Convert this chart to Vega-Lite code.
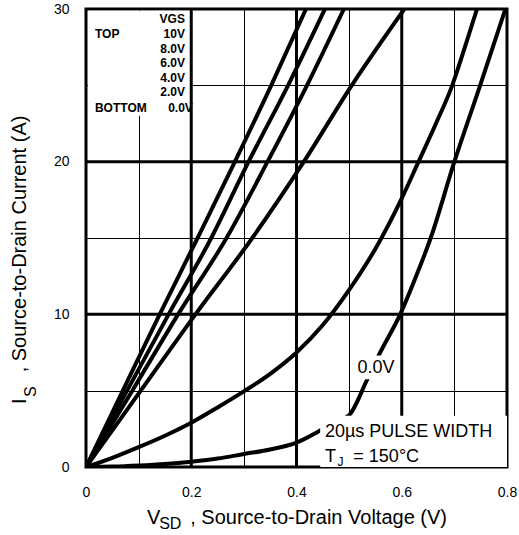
{
  "$schema": "https://vega.github.io/schema/vega-lite/v6.json",
  "width": 421,
  "height": 458,
  "autosize": {"type": "none"},
  "padding": {"left": 86, "top": 9, "right": 12, "bottom": 68},
  "background": "white",
  "config": {"view": {"stroke": "black", "strokeWidth": 3}},
  "datasets": {
    "curves": [
      {"vgs": "10V", "V": 0, "I": 0}, {"vgs": "10V", "V": 0.07, "I": 5}, {"vgs": "10V", "V": 0.14, "I": 10}, {"vgs": "10V", "V": 0.212, "I": 15}, {"vgs": "10V", "V": 0.283, "I": 20}, {"vgs": "10V", "V": 0.352, "I": 25}, {"vgs": "10V", "V": 0.418, "I": 30},
      {"vgs": "8.0V", "V": 0, "I": 0}, {"vgs": "8.0V", "V": 0.078, "I": 5}, {"vgs": "8.0V", "V": 0.157, "I": 10}, {"vgs": "8.0V", "V": 0.238, "I": 15}, {"vgs": "8.0V", "V": 0.309, "I": 20}, {"vgs": "8.0V", "V": 0.384, "I": 25}, {"vgs": "8.0V", "V": 0.454, "I": 30},
      {"vgs": "6.0V", "V": 0, "I": 0}, {"vgs": "6.0V", "V": 0.088, "I": 5}, {"vgs": "6.0V", "V": 0.175, "I": 10}, {"vgs": "6.0V", "V": 0.267, "I": 15}, {"vgs": "6.0V", "V": 0.345, "I": 20}, {"vgs": "6.0V", "V": 0.42, "I": 25}, {"vgs": "6.0V", "V": 0.49, "I": 30},
      {"vgs": "4.0V", "V": 0, "I": 0}, {"vgs": "4.0V", "V": 0.104, "I": 5}, {"vgs": "4.0V", "V": 0.208, "I": 10}, {"vgs": "4.0V", "V": 0.316, "I": 15}, {"vgs": "4.0V", "V": 0.414, "I": 20}, {"vgs": "4.0V", "V": 0.505, "I": 25}, {"vgs": "4.0V", "V": 0.605, "I": 30},
      {"vgs": "2.0V", "V": 0, "I": 0}, {"vgs": "2.0V", "V": 0.05, "I": 0.6}, {"vgs": "2.0V", "V": 0.1, "I": 1.3}, {"vgs": "2.0V", "V": 0.15, "I": 2.05}, {"vgs": "2.0V", "V": 0.2, "I": 2.9}, {"vgs": "2.0V", "V": 0.25, "I": 3.9}, {"vgs": "2.0V", "V": 0.3, "I": 4.95}, {"vgs": "2.0V", "V": 0.35, "I": 6.1}, {"vgs": "2.0V", "V": 0.4, "I": 7.5}, {"vgs": "2.0V", "V": 0.45, "I": 9.3}, {"vgs": "2.0V", "V": 0.5, "I": 11.6}, {"vgs": "2.0V", "V": 0.55, "I": 14.3}, {"vgs": "2.0V", "V": 0.6, "I": 17.6}, {"vgs": "2.0V", "V": 0.632, "I": 20}, {"vgs": "2.0V", "V": 0.665, "I": 22.5}, {"vgs": "2.0V", "V": 0.696, "I": 25}, {"vgs": "2.0V", "V": 0.72, "I": 27.5}, {"vgs": "2.0V", "V": 0.743, "I": 30},
      {"vgs": "0.0V", "V": 0, "I": 0}, {"vgs": "0.0V", "V": 0.05, "I": 0.03}, {"vgs": "0.0V", "V": 0.1, "I": 0.1}, {"vgs": "0.0V", "V": 0.15, "I": 0.2}, {"vgs": "0.0V", "V": 0.2, "I": 0.35}, {"vgs": "0.0V", "V": 0.25, "I": 0.55}, {"vgs": "0.0V", "V": 0.3, "I": 0.85}, {"vgs": "0.0V", "V": 0.35, "I": 1.15}, {"vgs": "0.0V", "V": 0.4, "I": 1.6}, {"vgs": "0.0V", "V": 0.44, "I": 2.3}, {"vgs": "0.0V", "V": 0.47, "I": 2.9}, {"vgs": "0.0V", "V": 0.5, "I": 3.4}, {"vgs": "0.0V", "V": 0.534, "I": 5.7}, {"vgs": "0.0V", "V": 0.559, "I": 7.5}, {"vgs": "0.0V", "V": 0.597, "I": 10}, {"vgs": "0.0V", "V": 0.625, "I": 12.3}, {"vgs": "0.0V", "V": 0.655, "I": 15}, {"vgs": "0.0V", "V": 0.7, "I": 20}, {"vgs": "0.0V", "V": 0.749, "I": 25}, {"vgs": "0.0V", "V": 0.797, "I": 30}
    ]
  },
  "layer": [
    {
      "data": {"values": [{"V": 0.004, "V2": 0.2, "I": 23, "I2": 29.88}]},
      "mark": {"type": "rect", "fill": "white", "stroke": null},
      "encoding": {
        "x": {"field": "V", "type": "quantitative", "scale": {"domain": [0, 0.8], "nice": false, "zero": false},
          "axis": {"values": [0, 0.1, 0.2, 0.3, 0.4, 0.5, 0.6, 0.7, 0.8], "grid": true, "gridColor": "black", "gridWidth": 1, "gridOpacity": 1, "domain": false, "ticks": false, "tickSize": 0, "labelPadding": 18, "labelFont": "Liberation Sans", "labelFontSize": 14, "labelColor": "black", "labelFlush": false, "labelOverlap": false, "title": null,
            "labelExpr": "round(datum.value*10) % 2 == 0 ? (datum.value == 0 ? '0' : format(datum.value, '.1f')) : ''"}},
        "x2": {"field": "V2"},
        "y": {"field": "I", "type": "quantitative", "scale": {"domain": [0, 30], "nice": false, "zero": false},
          "axis": {"values": [0, 5, 10, 15, 20, 25, 30], "grid": true, "gridColor": "black", "gridWidth": 1, "gridOpacity": 1, "domain": false, "ticks": false, "tickSize": 0, "labelPadding": 17, "labelFont": "Liberation Sans", "labelFontSize": 14, "labelColor": "black", "labelFlush": false, "labelOverlap": false, "title": null,
            "labelExpr": "datum.value % 10 == 0 ? datum.label : ''"}},
        "y2": {"field": "I2"}
      }
    },
    {
      "data": {"values": [{"V": 0.2}, {"V": 0.4}, {"V": 0.6}]},
      "mark": {"type": "rule", "color": "black", "strokeWidth": 3},
      "encoding": {"x": {"field": "V", "type": "quantitative", "scale": {"domain": [0, 0.8], "nice": false, "zero": false}}}
    },
    {
      "data": {"values": [{"I": 10}, {"I": 20}]},
      "mark": {"type": "rule", "color": "black", "strokeWidth": 3},
      "encoding": {"y": {"field": "I", "type": "quantitative", "scale": {"domain": [0, 30], "nice": false, "zero": false}}}
    },
    {
      "data": {"name": "curves"},
      "mark": {"type": "line", "color": "black", "strokeWidth": 4, "interpolate": "monotone", "clip": true},
      "encoding": {
        "x": {"field": "V", "type": "quantitative", "scale": {"domain": [0, 0.8], "nice": false, "zero": false}},
        "y": {"field": "I", "type": "quantitative", "scale": {"domain": [0, 30], "nice": false, "zero": false}},
        "detail": {"field": "vgs", "type": "nominal"}
      }
    },
    {
      "data": {"values": [{"V": 0.445, "V2": 0.8, "I": 0, "I2": 3.35}, {"V": 0.515, "V2": 0.585, "I": 5.75, "I2": 7.3}]},
      "mark": {"type": "rect", "fill": "white", "stroke": null},
      "encoding": {
        "x": {"field": "V", "type": "quantitative", "scale": {"domain": [0, 0.8], "nice": false, "zero": false}},
        "x2": {"field": "V2"},
        "y": {"field": "I", "type": "quantitative", "scale": {"domain": [0, 30], "nice": false, "zero": false}},
        "y2": {"field": "I2"}
      }
    },
    {
      "data": {"values": [{"t": "TOP", "V": 0.017, "I": 28.37}, {"t": "BOTTOM", "V": 0.017, "I": 23.52}]},
      "mark": {"type": "text", "font": "Liberation Sans", "fontWeight": "bold", "fontSize": 12, "align": "left", "baseline": "middle", "color": "black"},
      "encoding": {
        "x": {"field": "V", "type": "quantitative", "scale": {"domain": [0, 0.8], "nice": false, "zero": false}},
        "y": {"field": "I", "type": "quantitative", "scale": {"domain": [0, 30], "nice": false, "zero": false}},
        "text": {"field": "t"}
      }
    },
    {
      "data": {"values": [{"t": "VGS", "V": 0.188, "I": 29.36}, {"t": "10V", "V": 0.188, "I": 28.37}, {"t": "8.0V", "V": 0.188, "I": 27.41}, {"t": "6.0V", "V": 0.188, "I": 26.47}, {"t": "4.0V", "V": 0.188, "I": 25.49}, {"t": "2.0V", "V": 0.188, "I": 24.54}, {"t": "0.0V", "V": 0.203, "I": 23.52}]},
      "mark": {"type": "text", "font": "Liberation Sans", "fontWeight": "bold", "fontSize": 12, "align": "right", "baseline": "middle", "color": "black"},
      "encoding": {
        "x": {"field": "V", "type": "quantitative", "scale": {"domain": [0, 0.8], "nice": false, "zero": false}},
        "y": {"field": "I", "type": "quantitative", "scale": {"domain": [0, 30], "nice": false, "zero": false}},
        "text": {"field": "t"}
      }
    },
    {
      "data": {"values": [{"t": "0.0V", "V": 0.551, "I": 6.46}]},
      "mark": {"type": "text", "font": "Liberation Sans", "fontSize": 18, "align": "center", "baseline": "middle", "color": "black"},
      "encoding": {
        "x": {"field": "V", "type": "quantitative", "scale": {"domain": [0, 0.8], "nice": false, "zero": false}},
        "y": {"field": "I", "type": "quantitative", "scale": {"domain": [0, 30], "nice": false, "zero": false}},
        "text": {"field": "t"}
      }
    },
    {
      "data": {"values": [{"t": "20µs PULSE WIDTH", "V": 0.454, "I": 2.3}, {"t": "T", "V": 0.454, "I": 0.65}, {"t": "=  150°C", "V": 0.508, "I": 0.65}]},
      "mark": {"type": "text", "font": "Liberation Sans", "fontSize": 18, "align": "left", "baseline": "middle", "color": "black"},
      "encoding": {
        "x": {"field": "V", "type": "quantitative", "scale": {"domain": [0, 0.8], "nice": false, "zero": false}},
        "y": {"field": "I", "type": "quantitative", "scale": {"domain": [0, 30], "nice": false, "zero": false}},
        "text": {"field": "t"}
      }
    },
    {
      "data": {"values": [{"t": "J", "V": 0.478, "I": 0.35}]},
      "mark": {"type": "text", "font": "Liberation Sans", "fontSize": 12, "align": "left", "baseline": "middle", "color": "black"},
      "encoding": {
        "x": {"field": "V", "type": "quantitative", "scale": {"domain": [0, 0.8], "nice": false, "zero": false}},
        "y": {"field": "I", "type": "quantitative", "scale": {"domain": [0, 30], "nice": false, "zero": false}},
        "text": {"field": "t"}
      }
    },
    {
      "data": {"values": [{"t": "V", "V": 0.116, "I": -3.31}, {"t": ", Source-to-Drain Voltage (V)", "V": 0.198, "I": -3.31}]},
      "mark": {"type": "text", "font": "Liberation Sans", "fontSize": 20, "align": "left", "baseline": "middle", "color": "black"},
      "encoding": {
        "x": {"field": "V", "type": "quantitative", "scale": {"domain": [0, 0.8], "nice": false, "zero": false}},
        "y": {"field": "I", "type": "quantitative", "scale": {"domain": [0, 30], "nice": false, "zero": false}},
        "text": {"field": "t"}
      }
    },
    {
      "data": {"values": [{"t": "SD", "V": 0.139, "I": -3.72}]},
      "mark": {"type": "text", "font": "Liberation Sans", "fontSize": 16, "align": "left", "baseline": "middle", "color": "black"},
      "encoding": {
        "x": {"field": "V", "type": "quantitative", "scale": {"domain": [0, 0.8], "nice": false, "zero": false}},
        "y": {"field": "I", "type": "quantitative", "scale": {"domain": [0, 30], "nice": false, "zero": false}},
        "text": {"field": "t"}
      }
    },
    {
      "data": {"values": [{"t": "I", "V": -0.125, "I": 4.13}, {"t": ", Source-to-Drain Current (A)", "V": -0.125, "I": 6.2}]},
      "mark": {"type": "text", "font": "Liberation Sans", "fontSize": 20, "align": "left", "baseline": "middle", "angle": 270, "color": "black"},
      "encoding": {
        "x": {"field": "V", "type": "quantitative", "scale": {"domain": [0, 0.8], "nice": false, "zero": false}},
        "y": {"field": "I", "type": "quantitative", "scale": {"domain": [0, 30], "nice": false, "zero": false}},
        "text": {"field": "t"}
      }
    },
    {
      "data": {"values": [{"t": "S", "V": -0.105, "I": 4.59}]},
      "mark": {"type": "text", "font": "Liberation Sans", "fontSize": 16, "align": "left", "baseline": "middle", "angle": 270, "color": "black"},
      "encoding": {
        "x": {"field": "V", "type": "quantitative", "scale": {"domain": [0, 0.8], "nice": false, "zero": false}},
        "y": {"field": "I", "type": "quantitative", "scale": {"domain": [0, 30], "nice": false, "zero": false}},
        "text": {"field": "t"}
      }
    }
  ]
}
